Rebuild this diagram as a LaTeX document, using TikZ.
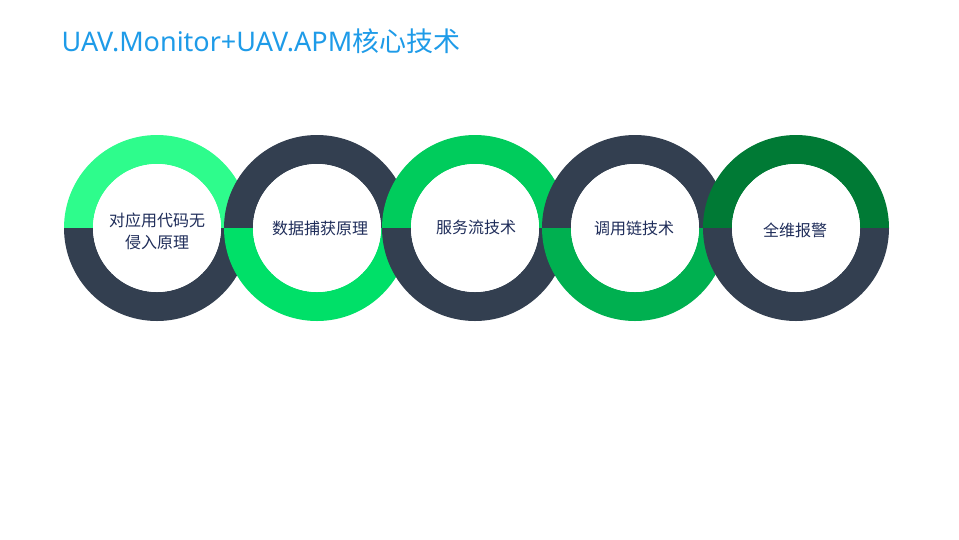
\documentclass[tikz,border=0pt]{standalone}
\usepackage{fontspec}
\setmainfont{Noto Sans CJK SC}
\newfontfamily\titlefont{Noto Sans}
\definecolor{dk}{HTML}{333F50}
\definecolor{ga}{HTML}{2EFC8C}
\definecolor{gb}{HTML}{00E068}
\definecolor{gc}{HTML}{00CC5C}
\definecolor{gd}{HTML}{00B050}
\definecolor{ge}{HTML}{007A35}
\definecolor{tb}{HTML}{1E9BE8}
\definecolor{tx}{HTML}{1F2D5A}
\tikzset{lbl/.style={text=tx,font=\fontsize{16}{22}\selectfont,align=center}}
\newcommand{\myring}[4]{% x, topcolor, botcolor, name
  \fill[#2] (#1pt,-228pt) ++(93pt,0) arc[start angle=0,end angle=180,radius=93pt] -- ++(29pt,0) arc[start angle=180,end angle=0,radius=64pt] -- cycle;
  \fill[#3] (#1pt,-228pt) ++(93pt,0) arc[start angle=0,end angle=-180,radius=93pt] -- ++(29pt,0) arc[start angle=180,end angle=360,radius=64pt] -- cycle;
  \fill[white] (#1pt,-228pt) circle[radius=64pt];
  \coordinate (#4) at (#1pt,-228pt);
}
\begin{document}
\begin{tikzpicture}[x=1pt,y=1pt]
\useasboundingbox (0,0) rectangle (959,-539);
\node[anchor=west,text=tb,font=\fontsize{27}{30}\selectfont] (title) at (58,-41) {{\titlefont UAV.Monitor+UAV.APM}核心技术};
\myring{157}{ga}{dk}{r1}
\myring{317}{dk}{gb}{r2}
\myring{475}{gc}{dk}{r3}
\myring{635}{dk}{gd}{r4}
\myring{796}{ge}{dk}{r5}
\node[lbl] (t1) at (157,-231) {对应用代码无\\侵入原理};
\node[lbl] (t2) at (320,-228) {数据捕获原理};
\node[lbl] (t3) at (476,-227) {服务流技术};
\node[lbl] (t4) at (634,-228) {调用链技术};
\node[lbl] (t5) at (795,-230) {全维报警};
\end{tikzpicture}
\end{document}
